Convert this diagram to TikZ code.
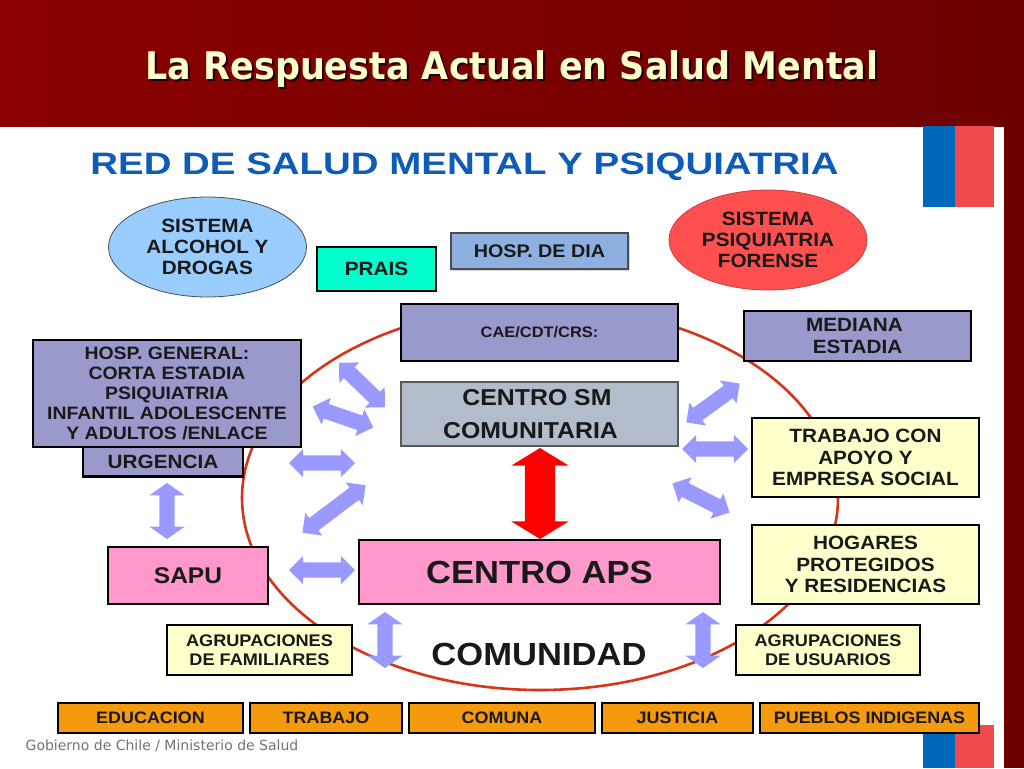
\documentclass[tikz,border=0pt]{standalone}
\usepackage{fontspec}
\setmainfont[FakeStretch=1.08]{Liberation Sans}
\newfontfamily\headfont[FakeStretch=1.24]{Liberation Sans}
\newfontfamily\titlefont[FakeStretch=.92]{DejaVu Sans}
\newfontfamily\footfont{DejaVu Sans}
\usetikzlibrary{shapes.geometric,shapes.arrows,shadows}

\definecolor{bandred}{HTML}{6E0000}
\definecolor{bandlight}{HTML}{8B0000}
\definecolor{titlecream}{HTML}{FFFFCC}
\definecolor{headblue}{HTML}{0F5CB8}
\definecolor{flagblue}{HTML}{0068B8}
\definecolor{flagred}{HTML}{F04A4A}
\definecolor{ringred}{HTML}{D8341A}
\definecolor{lilac}{HTML}{9999CC}
\definecolor{paleblue}{HTML}{99CCFF}
\definecolor{skyblue}{HTML}{8DB0E0}
\definecolor{aqua}{HTML}{00FFCC}
\definecolor{coral}{HTML}{FF5050}
\definecolor{steel}{HTML}{B2BCCB}
\definecolor{cream}{HTML}{FFFFCC}
\definecolor{pink}{HTML}{FF99CC}
\definecolor{amber}{HTML}{F59A0C}
\definecolor{arrowblue}{HTML}{9999FF}

\tikzset{
  card/.style={draw=black, line width=2.4pt, align=center, inner sep=0pt,
    font=\bfseries\fontsize{19.2}{21.5}\selectfont, text=black!90},
  oval/.style={ellipse, draw=black!70, line width=.8pt, align=center, inner sep=0pt,
    minimum width=198pt, minimum height=100pt,
    font=\bfseries\fontsize{19.2}{21}\selectfont, text=black!90},
  duplex/.style={double arrow, fill=arrowblue, inner sep=0pt, text width=0pt,
    text height=15pt, text depth=0pt, minimum height=66pt,
    double arrow head extend=6.5pt, double arrow head indent=0pt},
  upright/.style={duplex, rotate=90, minimum height=56pt,
    double arrow head extend=10pt, double arrow tip angle=110},
}

\begin{document}
\begin{tikzpicture}[x=1pt, y=-1pt]
  \useasboundingbox (0,0) rectangle (1024,768);

  \fill[white] (0,0) rectangle (1024,768);
  \shade[left color=bandlight, right color=bandred] (0,0) rectangle (1024,126);
  \fill[bandred] (1004,126) rectangle (1024,768);

  \fill[flagblue] (923,126) rectangle (955,207);
  \fill[flagred] (955,126) rectangle (994,207);
  \fill[flagblue] (923,733) rectangle (955,768);
  \fill[flagred] (955,725) rectangle (994,768);

  \node[text=black!75!bandred, font=\titlefont\bfseries\fontsize{38}{40}\selectfont] (titleshade) at (514,71) {La Respuesta Actual en Salud Mental};
  \node[text=titlecream, font=\titlefont\bfseries\fontsize{38}{40}\selectfont] (title) at (512,69) {La Respuesta Actual en Salud Mental};
  \node[text=headblue, font=\headfont\bfseries\fontsize{31}{34}\selectfont] (head) at (464.5,167) {RED DE SALUD MENTAL Y PSIQUIATRIA};

  \node[ellipse, draw=ringred, line width=2.6pt, minimum width=596pt, minimum height=384pt, inner sep=0pt] (ring) at (540,498) {};

  \node[oval, fill=paleblue] (alcohol) at (207.5,247) {SISTEMA\\ALCOHOL Y\\DROGAS};
  \node[oval, fill=coral, draw=coral!80!black] (forense) at (768,240) {SISTEMA\\PSIQUIATRIA\\FORENSE};
  \node[card, fill=aqua, minimum width=119pt, minimum height=44pt] (prais) at (376.5,269) {PRAIS};
  \node[card, fill=skyblue, draw=black!70, line width=1.2pt, drop shadow={shadow xshift=1.5pt, shadow yshift=-1.5pt, opacity=.3},
    minimum width=177pt, minimum height=36pt, font=\bfseries\fontsize{18.3}{21}\selectfont] (dia) at (539.5,251) {HOSP. DE DIA};

  \node[card, fill=lilac, minimum width=277pt, minimum height=57pt, font=\bfseries\fontsize{15.2}{18}\selectfont] (cae) at (539.5,332.5) {CAE/CDT/CRS:};
  \node[card, fill=lilac, minimum width=227pt, minimum height=50pt] (mediana) at (857.5,336) {\hspace*{-6pt}MEDIANA\\ESTADIA};
  \node[card, fill=lilac, minimum width=160pt, minimum height=30pt] (urgencia) at (163,461.5) {URGENCIA};
  \node[card, fill=lilac, minimum width=268pt, minimum height=107pt, font=\bfseries\fontsize{18}{20}\selectfont] (general) at (167,393.5) {HOSP. GENERAL:\\CORTA ESTADIA\\PSIQUIATRIA\\INFANTIL ADOLESCENTE\\Y ADULTOS /ENLACE};

  \node[card, fill=steel, draw=black!65, line width=1.4pt, minimum width=277pt, minimum height=64pt, font=\bfseries\fontsize{23}{33}\selectfont] (comunitaria) at (539.5,414) {\hspace*{-5pt}CENTRO SM\\\hspace*{-18pt}COMUNITARIA};
  \node[card, fill=pink, minimum width=361pt, minimum height=64pt, font=\bfseries\fontsize{32}{34}\selectfont] (aps) at (539.5,572) {CENTRO APS};
  \node[card, fill=pink, minimum width=160pt, minimum height=57pt, font=\bfseries\fontsize{22.7}{24}\selectfont] (sapu) at (188,575.5) {SAPU};

  \node[card, fill=cream, minimum width=227pt, minimum height=79pt] (trabajoapoyo) at (865.5,457.5) {TRABAJO CON\\APOYO Y\\EMPRESA SOCIAL};
  \node[card, fill=cream, minimum width=227pt, minimum height=79pt] (hogares) at (865.5,564.5) {HOGARES\\PROTEGIDOS\\Y RESIDENCIAS};
  \node[card, fill=cream, line width=1.6pt, minimum width=185pt, minimum height=50pt, font=\bfseries\fontsize{16.8}{19}\selectfont] (familiares) at (259.5,650) {AGRUPACIONES\\DE FAMILIARES};
  \node[card, fill=cream, line width=1.6pt, minimum width=184pt, minimum height=50pt, font=\bfseries\fontsize{16.8}{19}\selectfont] (usuarios) at (828,650) {AGRUPACIONES\\DE USUARIOS};
  \node[font=\bfseries\fontsize{32}{34}\selectfont, text=black!90] (comunidad) at (539,654) {COMUNIDAD};

  \foreach \name/\txt/\xa/\wid in {educacion/EDUCACION/150.5/185, trabajo/TRABAJO/326/152, comuna/COMUNA/502/186, justicia/JUSTICIA/677.5/151, pueblos/PUEBLOS INDIGENAS/869.5/219}
    \node[card, fill=amber, line width=1.6pt, minimum width=\wid pt, minimum height=30pt, font=\bfseries\fontsize{16.6}{18}\selectfont] (\name) at (\xa,718) {\txt};

  \node[text=black!55, font=\footfont\fontsize{14}{16}\selectfont] (foot) at (162,746) {Gobierno de Chile / Ministerio de Salud};

  % doble flechas
  \node[duplex, rotate=-44, minimum height=64pt] (arrowa) at (362,385) {};
  \node[duplex, rotate=-19, minimum height=64pt] (arrowb) at (343,417) {};
  \node[duplex] (arrowc) at (322,463) {};
  \node[duplex, rotate=37, minimum height=79pt] (arrowd) at (334,509) {};
  \node[duplex] (arrowe) at (322,570) {};
  \node[upright] (arrowf) at (167,511) {};
  \node[upright] (arrowg) at (385,640) {};
  \node[upright] (arrowh) at (703,640) {};
  \node[duplex, rotate=36] (arrowi) at (713,403) {};
  \node[duplex] (arrowj) at (715,449) {};
  \node[duplex, rotate=-27, minimum height=64pt] (arrowk) at (701,498) {};
  \node[duplex, fill=red, rotate=90, text height=30pt, minimum height=91pt,
    double arrow head extend=13.5pt, double arrow tip angle=117] (arrowred) at (540,493.5) {};

\end{tikzpicture}
\end{document}
